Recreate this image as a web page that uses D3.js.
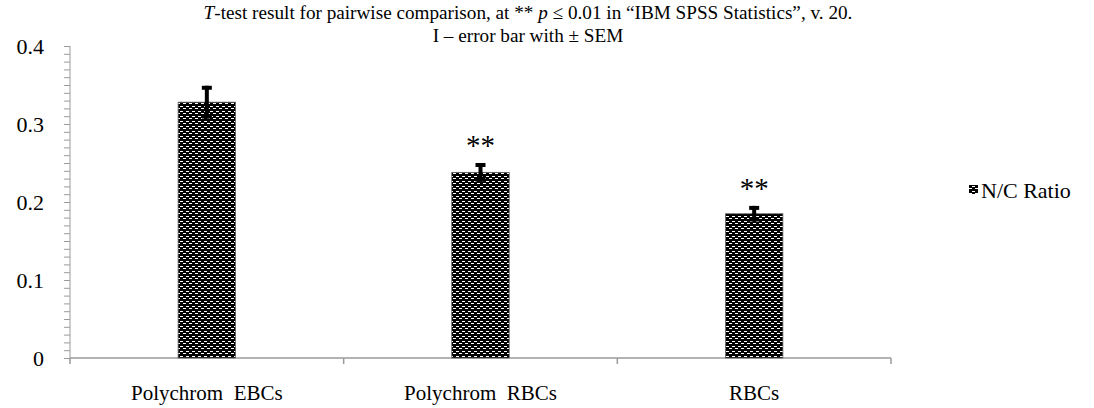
<!DOCTYPE html>
<html><head><meta charset="utf-8">
<script src="https://cdn.jsdelivr.net/npm/d3@7"></script>
<style>
html,body{margin:0;padding:0;background:#fff;}
</style></head>
<body>
<svg id="c" width="1094" height="408"></svg>
<script>
const categories = ["Polychrom  EBCs", "Polychrom  RBCs", "RBCs"];
const values = [0.328, 0.238, 0.185];
const sem = [0.021, 0.012, 0.010];
const significance = ["", "**", "**"];
const yTicks = [0, 0.1, 0.2, 0.3, 0.4];
const seriesName = "N/C Ratio";
const titleLines = ["T-test result for pairwise comparison, at ** p \u2264 0.01 in \u201cIBM SPSS Statistics\u201d, v. 20.", "I \u2013 error bar with \u00b1 SEM"];

const FONT = "'Liberation Serif', 'Times New Roman', 'DejaVu Serif', serif";
const svg = d3.select("#c");
const defs = svg.append("defs");
const pat = defs.append("pattern").attr("id","pat").attr("patternUnits","userSpaceOnUse")
  .attr("width",6).attr("height",5);
pat.append("rect").attr("width",6).attr("height",5).attr("fill","#000");
pat.append("rect").attr("x",0).attr("y",1).attr("width",3).attr("height",1).attr("fill","#fff").attr("shape-rendering","crispEdges");
pat.append("rect").attr("x",3).attr("y",3).attr("width",3).attr("height",1).attr("fill","#fff").attr("shape-rendering","crispEdges");

const x0 = 70, x1 = 891, yTop = 46, yBot = 358;
const y = d3.scaleLinear().domain([0,0.4]).range([yBot,yTop]);
const x = d3.scaleBand().domain(categories).range([x0,x1]).paddingInner(0.79).paddingOuter(0.395);
const xb = d3.scaleBand().domain(categories).range([x0,x1]);
const axisColor = "#9a9a9a";

function txt(sel){ return sel.attr("font-family",FONT).attr("fill","#000").style("white-space","pre"); }

// y axis with minor ticks
const yAxis = svg.append("g").attr("transform",`translate(${x0},0)`)
  .call(d3.axisLeft(y).tickValues(d3.range(0,0.4001,0.01)).tickSize(6).tickFormat(""));
yAxis.selectAll("line").attr("stroke",axisColor);
yAxis.select(".domain").attr("stroke",axisColor).attr("d",`M0,${yTop}V${yBot}`);
txt(svg.append("g").selectAll("text").data(yTicks).join("text"))
  .attr("x",44).attr("y",d=>y(d)).attr("dy","0.35em").attr("text-anchor","end")
  .attr("font-size",22).text(d=>d===0?"0":d3.format(".1f")(d));

// x axis
const xAxis = svg.append("g").attr("transform",`translate(0,${yBot})`);
xAxis.append("line").attr("x1",x0).attr("x2",x1).attr("stroke",axisColor).attr("stroke-width",1.5);
const bounds = [x0].concat(categories.map(c=>xb(c)+xb.bandwidth()));
xAxis.selectAll("line.t").data(bounds).join("line").attr("class","t")
  .attr("x1",d=>d).attr("x2",d=>d).attr("y1",0).attr("y2",6).attr("stroke",axisColor).attr("stroke-width",1.5);
txt(svg.append("g").selectAll("text").data(categories).join("text"))
  .attr("x",d=>xb(d)+xb.bandwidth()/2).attr("y",400).attr("text-anchor","middle")
  .attr("font-size",21).text(d=>d);

// bars
svg.append("g").selectAll("rect").data(categories).join("rect")
  .attr("x",d=>x(d)).attr("width",x.bandwidth())
  .attr("y",(d,i)=>y(values[i])).attr("height",(d,i)=>yBot-y(values[i]))
  .attr("fill","url(#pat)").attr("stroke","#666").attr("stroke-width",0.8);

// error bars
const eg = svg.append("g");
categories.forEach((c,i)=>{
  const cx = x(c)+x.bandwidth()/2;
  const hi = y(values[i]+sem[i]), lo = y(values[i]-sem[i]);
  eg.append("line").attr("x1",cx).attr("x2",cx).attr("y1",hi).attr("y2",lo).attr("stroke","#000").attr("stroke-width",4);
  eg.append("line").attr("x1",cx-5).attr("x2",cx+5).attr("y1",hi+2).attr("y2",hi+2).attr("stroke","#000").attr("stroke-width",4);
  eg.append("line").attr("x1",cx-5).attr("x2",cx+5).attr("y1",lo-2).attr("y2",lo-2).attr("stroke","#000").attr("stroke-width",4);
  if(significance[i]){
    txt(svg.append("text")).attr("x",cx).attr("y",hi-26).attr("dy","0.62em").attr("text-anchor","middle")
      .attr("font-size",29).text(significance[i]);
  }
});

// title
const t1 = txt(svg.append("text")).attr("x",528).attr("y",19).attr("text-anchor","middle").attr("font-size",19.2);
t1.append("tspan").attr("font-style","italic").text("T");
t1.append("tspan").text("-test result for pairwise comparison, at ** ");
t1.append("tspan").attr("font-style","italic").text("p");
t1.append("tspan").text(" \u2264 0.01 in \u201cIBM SPSS Statistics\u201d, v. 20.");
txt(svg.append("text")).attr("x",528).attr("y",42).attr("text-anchor","middle").attr("font-size",19.2).text(titleLines[1]);

// legend
const lg = svg.append("g");
lg.append("rect").attr("x",969).attr("y",185).attr("width",9).attr("height",9).attr("fill","url(#pat)");
txt(lg.append("text")).attr("x",981).attr("y",198).attr("font-size",22).text(seriesName);
</script>
</body></html>
